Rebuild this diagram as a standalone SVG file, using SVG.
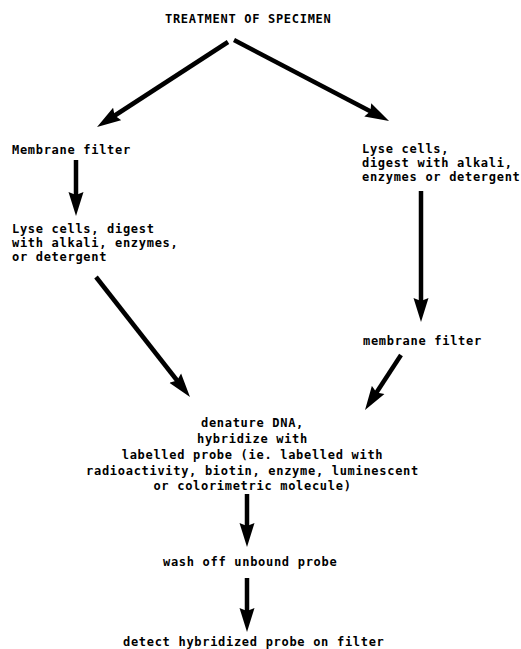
<svg xmlns="http://www.w3.org/2000/svg" width="521" height="649" viewBox="0 0 521 649">
  <style>
    .lbl { font-family: "DejaVu Sans Mono", "Liberation Mono", monospace; font-weight: bold; font-size: 12px; letter-spacing: 0.7px; fill: #000; }
    .mid { text-anchor: middle; }
    .flow { stroke: #000; stroke-width: 4.5; fill: none; marker-end: url(#head); }
  </style>
  <defs>
    <!-- solid dart-shaped arrowhead; tip sits 12 units past the line end -->
    <marker id="head" markerUnits="userSpaceOnUse" markerWidth="26" markerHeight="16" viewBox="0 0 26 16" refX="12" refY="8" orient="auto">
      <path d="M0,0.5 L24,8 L0,15.5 L3,8 Z" fill="#000"/>
    </marker>
  </defs>
  <rect width="521" height="649" fill="#fff"/>

  <g id="connectors">
    <line class="flow" x1="228" y1="42" x2="107.1" y2="120.5"/>
    <line class="flow" x1="234" y1="40" x2="378.4" y2="115.4"/>
    <line class="flow" x1="76" y1="160" x2="76" y2="204"/>
    <line class="flow" x1="421" y1="191" x2="421" y2="310"/>
    <line class="flow" x1="96" y1="277" x2="182.6" y2="387.5"/>
    <line class="flow" x1="401" y1="355" x2="371.6" y2="400"/>
    <line class="flow" x1="247" y1="494" x2="247" y2="535"/>
    <line class="flow" x1="247" y1="578" x2="247" y2="620"/>
  </g>

  <g id="treatment">
    <text class="lbl" x="165" y="23">TREATMENT OF SPECIMEN</text>
  </g>

  <g id="filter-first">
    <text class="lbl" x="12" y="154">Membrane filter</text>
  </g>

  <g id="lyse-after-filter">
    <text class="lbl" x="12" y="233">Lyse cells, digest</text>
    <text class="lbl" x="12" y="247">with alkali, enzymes,</text>
    <text class="lbl" x="12" y="261">or detergent</text>
  </g>

  <g id="lyse-first">
    <text class="lbl" x="362" y="153">Lyse cells,</text>
    <text class="lbl" x="362" y="167">digest with alkali,</text>
    <text class="lbl" x="362" y="181">enzymes or detergent</text>
  </g>

  <g id="filter-after-lyse">
    <text class="lbl" x="363" y="345">membrane filter</text>
  </g>

  <g id="hybridize">
    <text class="lbl mid" x="252.5" y="427">denature DNA,</text>
    <text class="lbl mid" x="252.5" y="443">hybridize with</text>
    <text class="lbl mid" x="252.5" y="459">labelled probe (ie. labelled with</text>
    <text class="lbl mid" x="252.5" y="475">radioactivity, biotin, enzyme, luminescent</text>
    <text class="lbl mid" x="252.5" y="490">or colorimetric molecule)</text>
  </g>

  <g id="wash">
    <text class="lbl" x="163" y="566">wash off unbound probe</text>
  </g>

  <g id="detect">
    <text class="lbl" x="123" y="646">detect hybridized probe on filter</text>
  </g>
</svg>
